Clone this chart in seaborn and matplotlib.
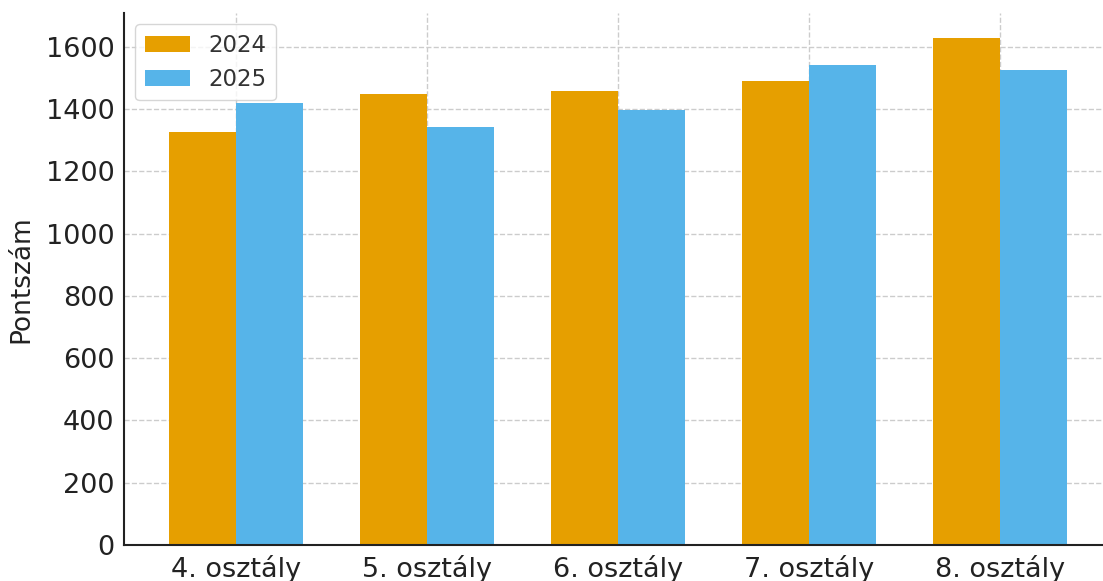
import pandas as pd
import seaborn as sns
import matplotlib.pyplot as plt

# adatok
categories = ["4. osztály", "5. osztály", "6. osztály", "7. osztály", "8. osztály"]
years = ["2024", "2025"]
values_2024 = [1327, 1447, 1457, 1490, 1627]
values_2025 = [1418, 1343, 1396, 1540, 1524]
colors = ["#E69F00", "#56B4E9"]

data = pd.DataFrame({
    "osztaly": categories * 2,
    "ev": [years[0]] * len(categories) + [years[1]] * len(categories),
    "pont": values_2024 + values_2025,
})

sns.set_style("white")
plt.rcParams["font.family"] = ["DejaVu Sans"]

fig = plt.figure(figsize=(11.03, 5.81), dpi=100)
ax = fig.add_axes([0.1124, 0.062, 0.8953, 0.9157])

sns.barplot(data=data, x="osztaly", y="pont", hue="ev", palette=colors,
            saturation=1, width=0.7, gap=0, linewidth=0, ax=ax,
            errorbar=None, zorder=2)

ax.set_xlim(-0.585, 4.585)
ax.set_axisbelow(True)
ax.grid(True, linestyle="--", color="#cccccc", linewidth=1)

ax.set_xlabel("")
ax.set_ylabel("Pontszám", fontsize=19, color="#222222", labelpad=8)
ax.tick_params(axis="both", direction="in", labelsize=19.5, pad=7,
               colors="#222222", length=4.5, width=1.2)

for side in ["top", "right"]:
    ax.spines[side].set_visible(False)
for side in ["left", "bottom"]:
    ax.spines[side].set_linewidth(1.5)
    ax.spines[side].set_color("#222222")

leg = ax.legend(loc="upper left", fontsize=16.5, title=None, frameon=True)
leg.get_frame().set_edgecolor("#cccccc")
for t in leg.get_texts():
    t.set_color("#333333")

fig.savefig("out.png", dpi=100)
